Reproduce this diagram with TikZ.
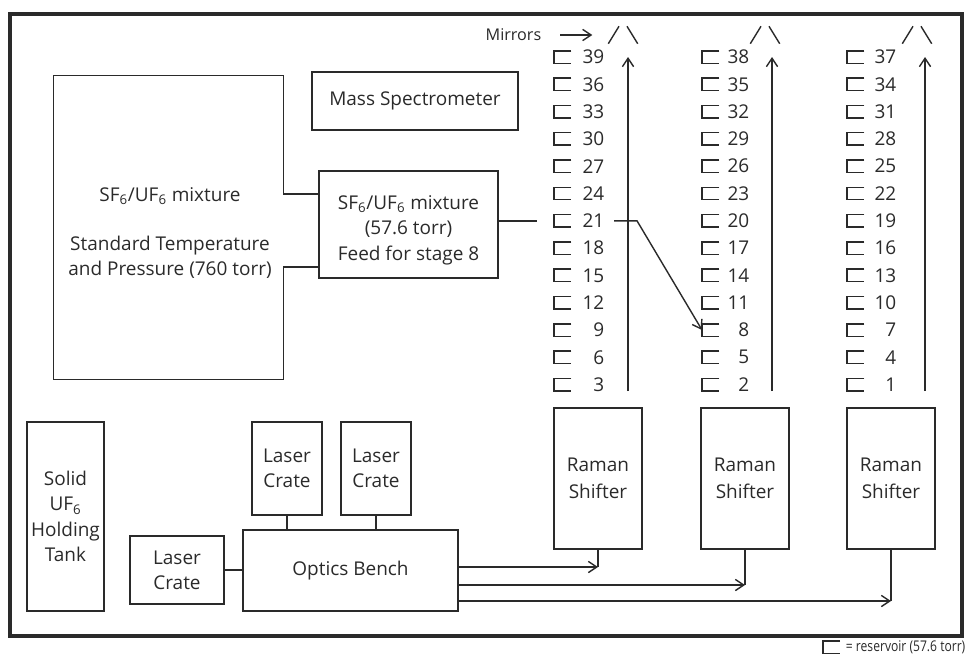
\documentclass[tikz,border=0pt]{standalone}
\usepackage{fontspec}
\setmainfont{Open Sans}
\newfontfamily\legfont[FakeStretch=0.82]{Open Sans}
\usetikzlibrary{positioning, arrows.meta, calc}
\definecolor{Ink}{HTML}{2A2A2A}

\begin{document}
\begin{tikzpicture}[x=0.025cm, y=-0.025cm, Ink, line width=1pt,
  box/.style={draw, line width=1pt, align=center, inner sep=2pt, font=\fontsize{13.5}{18}\selectfont},
  flow/.style={-{Straight Barb[length=6pt, width=8pt]}, line width=1pt},
  res/.style={minimum width=0.4cm, minimum height=0.275cm, inner sep=0pt},
  num/.style={anchor=east, inner sep=0pt, font=\fontsize{13.5}{15}\selectfont}]
  \useasboundingbox (0,0) rectangle (968,658);
  % outer frame
  \draw[line width=2.2pt] (10,14) rectangle (962,636);
  % reservoirs and stage numbers
  \foreach \c/\rx/\nx in {0/554/605, 1/702/750, 2/847/897} {
    \foreach \k in {0,...,12} {
      \pgfmathtruncatemacro{\n}{39-3*\k-\c}
      \node[res, anchor=west] (r\n) at ({\rx},{57+27.3*\k}) {};
      \draw (r\n.north east) -- (r\n.north west) -- (r\n.south west) -- (r\n.south east);
      \node[num] (n\n) at ({\nx},{57+27.3*\k}) {\n};
    }
  }
  % beam lines and mirrors
  \foreach \i/\lx/\mx in {1/628/623, 2/772/765, 3/925/917} {
    \coordinate (base\i) at (\lx,391);
    \coordinate (top\i) at (\lx,57);
    \draw[flow] (base\i) -- (top\i);
    \node[minimum width=0.7cm, minimum height=0.4cm, inner sep=0pt] (mir\i) at (\mx,35) {};
    \draw (mir\i.south west) -- ($(mir\i.north)+(-4,0)$) ($(mir\i.north)+(4,0)$) -- (mir\i.south east);
  }
  \node[anchor=east, inner sep=0pt, font=\fontsize{11.5}{13}\selectfont] (mirlbl) at (542,35) {Mirrors};
  \draw[flow] ($(mirlbl.east)+(18,0)$) -- ($(mir1.west)+(-16,0)$);
  % gas handling
  \node[box, minimum width=5.15cm, minimum height=1.45cm] (mass) at (415,101) {Mass Spectrometer};
  \node[box, minimum width=4.475cm, minimum height=2.675cm] (feed) at (408.5,224.5) {};
  \node[box, draw=none] (feedtxt) at (408.5,230)
    {SF\textsubscript{6}/UF\textsubscript{6} mixture\\(57.6 torr)\\Feed for stage 8};
  \node[minimum width=5.725cm, minimum height=7.575cm, inner sep=0pt] (stp) at (168.5,227.5) {};
  \node[box, draw=none] (stptxt) at (170,233)
    {SF\textsubscript{6}/UF\textsubscript{6} mixture\\[17pt]Standard Temperature\\and Pressure (760 torr)};
  \draw (feed.west |- 0,194) -| (stp.north east) -- (stp.north west)
    -- (stp.south west) -- (stp.south east) |- (feed.west |- 0,267);
  \draw (feed.east |- r21) -- ($(r21.west)+(-17,0)$);
  \draw[flow] ($(n21.east)+(9,0)$) -- ++(23,0) -- (r8.west);
  % Raman shifters
  \foreach \i/\rx in {1/598, 2/745, 3/891}
    \node[box, font=\fontsize{13.5}{19}\selectfont, minimum width=2.2cm, minimum height=3.525cm]
      (ram\i) at (\rx,478.5) {Raman\\Shifter};
  % lasers
  \node[box, minimum width=1.925cm, minimum height=4.725cm] (tank) at (65.5,516.5)
    {Solid\\UF\textsubscript{6}\\Holding\\Tank};
  \node[box, minimum width=5.375cm, minimum height=2.025cm] (bench) at (350.5,570.5) {Optics Bench};
  \node[box, minimum width=2.35cm, minimum height=1.7cm] (crate1) at (177,570) {Laser\\Crate};
  \node[box, minimum width=1.75cm, minimum height=2.325cm] (crate2) at (287,468.5) {Laser\\Crate};
  \node[box, minimum width=1.75cm, minimum height=2.325cm] (crate3) at (376,468.5) {Laser\\Crate};
  \draw (crate1.east) -- (crate1.east -| bench.west);
  \draw (crate2.south) -- (crate2.south |- bench.north);
  \draw (crate3.south) -- (crate3.south |- bench.north);
  \foreach \i/\jy in {1/567, 2/585, 3/601} {
    \coordinate (join\i) at (ram\i.south |- 0,\jy);
    \draw (ram\i.south) -- (join\i);
    \draw[flow] (bench.east |- join\i) -- (join\i);
  }
  % legend
  \node[anchor=east, inner sep=0pt, font=\legfont\fontsize{10.5}{12}\selectfont] (legtxt) at (966,647) {= reservoir (57.6 torr)};
  \node[res, anchor=east] (legres) at ($(legtxt.west)+(-5,0)$) {};
  \draw (legres.north east) -- (legres.north west) -- (legres.south west) -- (legres.south east);
\end{tikzpicture}
\end{document}
